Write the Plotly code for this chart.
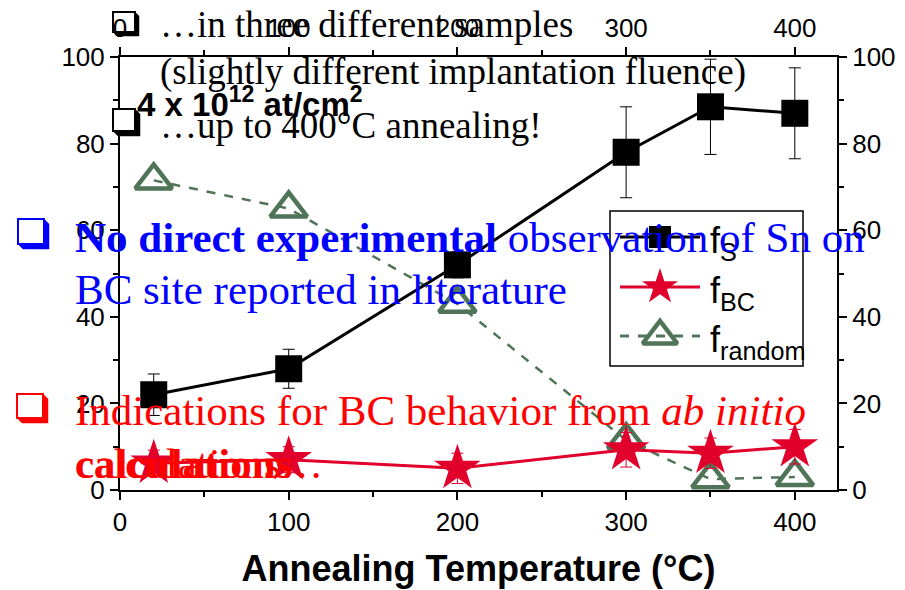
import plotly.graph_objects as go

# ---- data ----
temps = [20, 100, 200, 300, 350, 400]
f_S = [22, 28, 52, 78, 88.5, 87]
f_S_err = [4.8, 4.5, 3, 10.5, 11, 10.5]
f_BC = [6.2, 7, 5, 9.3, 8.5, 10]
f_BC_err = [3, 3, 3.5, 4, 3.5, 4]
f_random = [71.5, 65, 43, 11.5, 2.5, 3]

x_ticks = [0, 100, 200, 300, 400]
y_ticks = [0, 20, 40, 60, 80, 100]

BLACK = "#000000"
RED = "#e0002b"
GREEN = "#4f7457"
BLUE_T = "#0000ff"
RED_T = "#ff0000"
SANS = "Liberation Sans, Arial, sans-serif"
SERIF = "Liberation Serif, Times New Roman, serif"

# plot-area geometry (pixels)
L, R, T, B = 120, 837, 57, 490
XMAX, YMAX = 425, 100


def PX(px):
    return (px - L) / (R - L)


def PY(py):
    return (B - py) / (B - T)


def DX(px):
    return (px - L) / (R - L) * XMAX


def DY(py):
    return (B - py) / (B - T) * YMAX


fig = go.Figure()

fig.add_trace(go.Scatter(
    x=temps, y=f_random, mode="lines+markers",
    line=dict(color=GREEN, width=2.5, dash="dash"),
    marker=dict(symbol="triangle-up-open", size=32, color=GREEN, line=dict(width=4.5, color=GREEN)),
    cliponaxis=False, showlegend=False))

fig.add_trace(go.Scatter(
    x=temps, y=f_BC, mode="lines+markers",
    line=dict(color=RED, width=3),
    error_y=dict(type="data", array=f_BC_err, color=RED, thickness=1, width=6),
    marker=dict(symbol="star", size=35, color=RED, line=dict(width=0)),
    cliponaxis=False, showlegend=False))

fig.add_trace(go.Scatter(
    x=temps, y=f_S, mode="lines+markers",
    line=dict(color=BLACK, width=3),
    error_y=dict(type="data", array=f_S_err, color=BLACK, thickness=1, width=6),
    marker=dict(symbol="square", size=27, color=BLACK),
    cliponaxis=False, showlegend=False))

# invisible trace for the mirror axes
fig.add_trace(go.Scatter(x=[0], y=[0], xaxis="x2", yaxis="y2", mode="markers",
                         marker=dict(opacity=0), showlegend=False, hoverinfo="skip"))

# ---- manual legend ----
leg_rows = [237, 287, 336]
leg_styles = [
    (dict(color=BLACK, width=3), dict(symbol="square", size=22, color=BLACK)),
    (dict(color=RED, width=3), dict(symbol="star", size=27, color=RED)),
    (dict(color=GREEN, width=3, dash="dash"),
     dict(symbol="triangle-up-open", size=30, color=GREEN, line=dict(width=4.5, color=GREEN))),
]
for py, (ln, mk) in zip(leg_rows, leg_styles):
    fig.add_trace(go.Scatter(x=[DX(620), DX(660), DX(700)], y=[DY(py)] * 3,
                             mode="lines", line=ln, cliponaxis=False, showlegend=False, hoverinfo="skip"))
    fig.add_trace(go.Scatter(x=[DX(660)], y=[DY(py)], mode="markers", marker=mk,
                             cliponaxis=False, showlegend=False, hoverinfo="skip"))

fig.add_shape(type="rect", xref="paper", yref="paper",
              x0=PX(610), x1=PX(803), y0=PY(366), y1=PY(211),
              line=dict(color=BLACK, width=1.5), fillcolor="rgba(0,0,0,0)")

leg_labels = ["f<sub>S</sub>", "f<sub>BC</sub>", "f<sub>random</sub>"]
for py, lab in zip(leg_rows, leg_labels):
    fig.add_annotation(xref="paper", yref="paper", x=PX(708), y=PY(py + 6),
                       text=lab, showarrow=False, xanchor="left", yanchor="middle",
                       font=dict(family=SANS, size=36, color=BLACK))


# ---- overlaid slide texts ----
def txt(px, py, text, size, color, family=SERIF, anchor="left"):
    fig.add_annotation(xref="paper", yref="paper", x=PX(px), y=PY(py), text=text,
                       showarrow=False, xanchor=anchor, yanchor="middle",
                       font=dict(family=family, size=size, color=color))


def shadow_box(x0, y0, w, h, color, sh, lw, fill="white"):
    """Shadowed square bullet (like the ❑ glyph) in pixel coords."""
    x1, y1 = x0 + w - sh, y0 + h - sh
    fig.add_shape(type="rect", xref="paper", yref="paper",
                  x0=PX(x0), x1=PX(x1), y0=PY(y1), y1=PY(y0),
                  line=dict(color=color, width=lw), fillcolor=fill, layer="above")
    pts = [(x1, y0), (x1 + sh, y0 + sh), (x1 + sh, y1 + sh), (x0 + sh, y1 + sh), (x0, y1), (x1, y1)]
    path = "M " + " L ".join(f"{PX(a)},{PY(b)}" for a, b in pts) + " Z"
    fig.add_shape(type="path", xref="paper", yref="paper", path=path,
                  line=dict(color=color, width=0.5), fillcolor=color, layer="above")


shadow_box(113, 12, 26, 24, BLACK, 4, 2, fill="rgba(0,0,0,0)")
txt(158, 25, "…in three different samples", 37, BLACK)
txt(158, 72, "(slightly different implantation fluence)", 37, BLACK)
txt(135, 102, "<b>4 x 10<sup>12</sup> at/cm<sup>2</sup></b>", 33, BLACK, SANS)
shadow_box(113, 109, 27, 27, BLACK, 5, 2)
txt(158, 125, "…up to 400°C annealing!", 37, BLACK)

shadow_box(18, 219, 31, 30, BLUE_T, 5, 2)
txt(73, 237, "<b>No direct experimental</b> observation of Sn on", 43, BLUE_T)
txt(73, 289, "BC site reported in literature", 43, BLUE_T)

shadow_box(17, 394, 31, 29, RED_T, 5, 2)
txt(73, 410, "Indications for BC behavior from <i>ab initio</i>", 43, RED_T)
txt(73, 463, "calculations…", 43, RED_T)
txt(73, 463, "<b>calculations</b>", 43, RED_T)

axis_common = dict(showline=True, linecolor=BLACK, linewidth=2, ticks="outside",
                   ticklen=8, tickwidth=2, tickcolor=BLACK, showgrid=False, zeroline=False,
                   automargin=False,
                   tickfont=dict(family=SANS, size=26, color=BLACK))
minor_x = dict(dtick=50, tick0=0, ticks="outside", ticklen=5, tickwidth=2, tickcolor=BLACK)
minor_y = dict(dtick=10, tick0=0, ticks="outside", ticklen=5, tickwidth=2, tickcolor=BLACK)

fig.update_layout(
    width=905, height=590,
    margin=dict(l=L, r=905 - R, t=T, b=590 - B),
    paper_bgcolor="white", plot_bgcolor="white",
    xaxis=dict(range=[0, XMAX], tickvals=x_ticks, minor=minor_x,
               title=dict(text="<b>Annealing Temperature (°C)</b>", standoff=20,
                          font=dict(family=SANS, size=36, color=BLACK)),
               **axis_common),
    xaxis2=dict(range=[0, XMAX], tickvals=x_ticks, overlaying="x", side="top", anchor="y",
                minor=minor_x, **axis_common),
    yaxis=dict(range=[0, YMAX], tickvals=y_ticks, minor=minor_y, **axis_common),
    yaxis2=dict(range=[0, YMAX], tickvals=y_ticks, overlaying="y", side="right", anchor="x",
                minor=minor_y, **axis_common),
)

fig.write_html("out.html")
